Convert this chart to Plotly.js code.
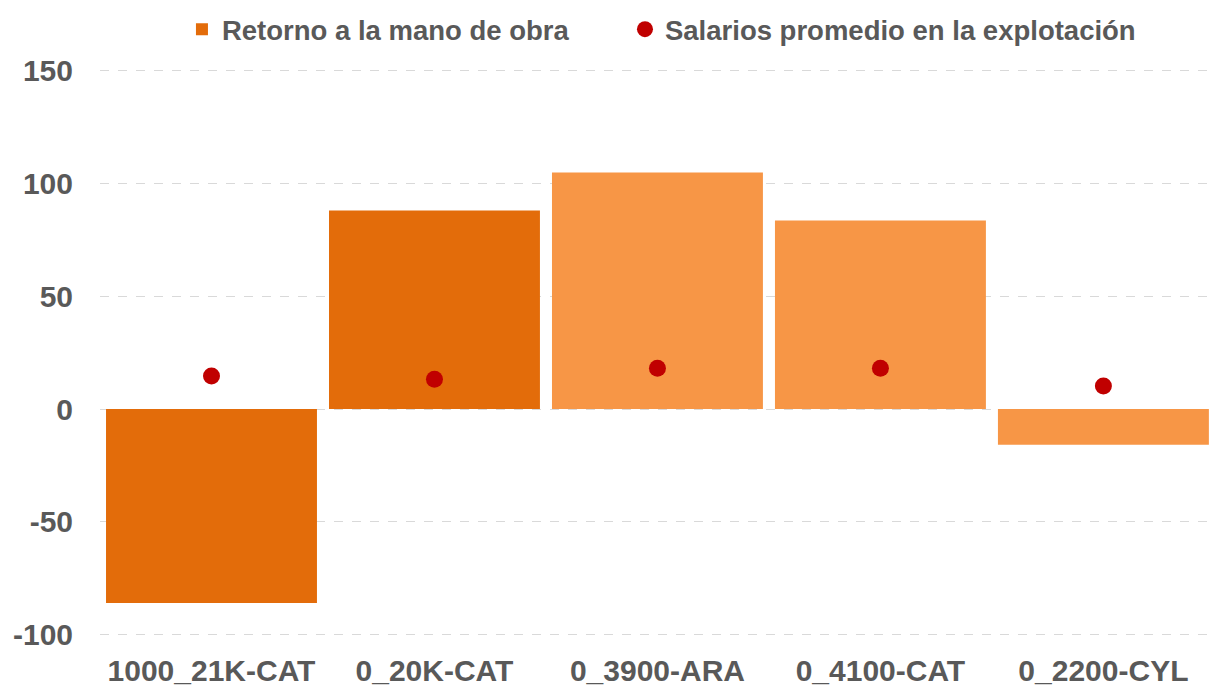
<!DOCTYPE html>
<html>
<head>
<meta charset="utf-8">
<script src="https://cdn.plot.ly/plotly-3.0.1.min.js"></script>
<style>html,body{margin:0;padding:0;overflow:hidden;background:#fff}#chart{width:1212px;height:687px}</style>
</head>
<body>
<div id="chart"></div>
<script>
const categories = ["1000_21K-CAT", "0_20K-CAT", "0_3900-ARA", "0_4100-CAT", "0_2200-CYL"];
const retornoManoObra = [-85.8, 87.8, 104.6, 83.4, -15.8];
const salariosPromedio = [14.6, 13.2, 18.0, 18.0, 10.2];
const barColors = ["#E36C0A", "#E36C0A", "#F79646", "#F79646", "#F79646"];
const yTicks = [-100, -50, 0, 50, 100, 150];

const textColor = "#595959";
const fontFam = "Liberation Sans, Arial, sans-serif";
const legendFont = { family: fontFam, size: 27.5, color: textColor, weight: "bold" };

const data = [
  {
    type: "bar",
    name: "Retorno a la mano de obra",
    x: categories,
    y: retornoManoObra,
    marker: { color: barColors, line: { width: 0 } },
    legend: "legend",
    hoverinfo: "x+y"
  },
  {
    type: "scatter",
    mode: "markers",
    name: "Salarios promedio en la explotación",
    x: categories,
    y: salariosPromedio,
    legend: "legend2",
    marker: { color: "#C00000", size: 17, symbol: "circle" }
  }
];

const layout = {
  width: 1212,
  height: 687,
  margin: { l: 100, r: 0, t: 69, b: 51 },
  paper_bgcolor: "#ffffff",
  plot_bgcolor: "#ffffff",
  bargap: 0.054,
  showlegend: true,
  legend: {
    orientation: "h",
    x: 0.0737,
    xanchor: "left",
    y: 1.07,
    yanchor: "middle",
    font: legendFont,
    bgcolor: "rgba(0,0,0,0)"
  },
  legend2: {
    orientation: "h",
    x: 0.4721,
    xanchor: "left",
    y: 1.07,
    yanchor: "middle",
    font: legendFont,
    bgcolor: "rgba(0,0,0,0)"
  },
  xaxis: {
    type: "category",
    range: [-0.5, 4.487],
    showgrid: false,
    zeroline: false,
    showline: false,
    ticks: "",
    ticklabelstandoff: 14,
    tickfont: { family: fontFam, size: 30, color: textColor, weight: "bold" }
  },
  yaxis: {
    range: [-100.45, 150.45],
    tickvals: yTicks,
    ticktext: yTicks.map(String),
    showgrid: true,
    gridcolor: "#D9D9D9",
    griddash: "dash",
    gridwidth: 1,
    zeroline: false,
    showline: false,
    ticks: "",
    ticklabelstandoff: 26,
    tickfont: { family: fontFam, size: 30, color: textColor, weight: "bold" }
  }
};

Plotly.newPlot("chart", data, layout, { displayModeBar: false, staticPlot: true });
</script>
</body>
</html>
